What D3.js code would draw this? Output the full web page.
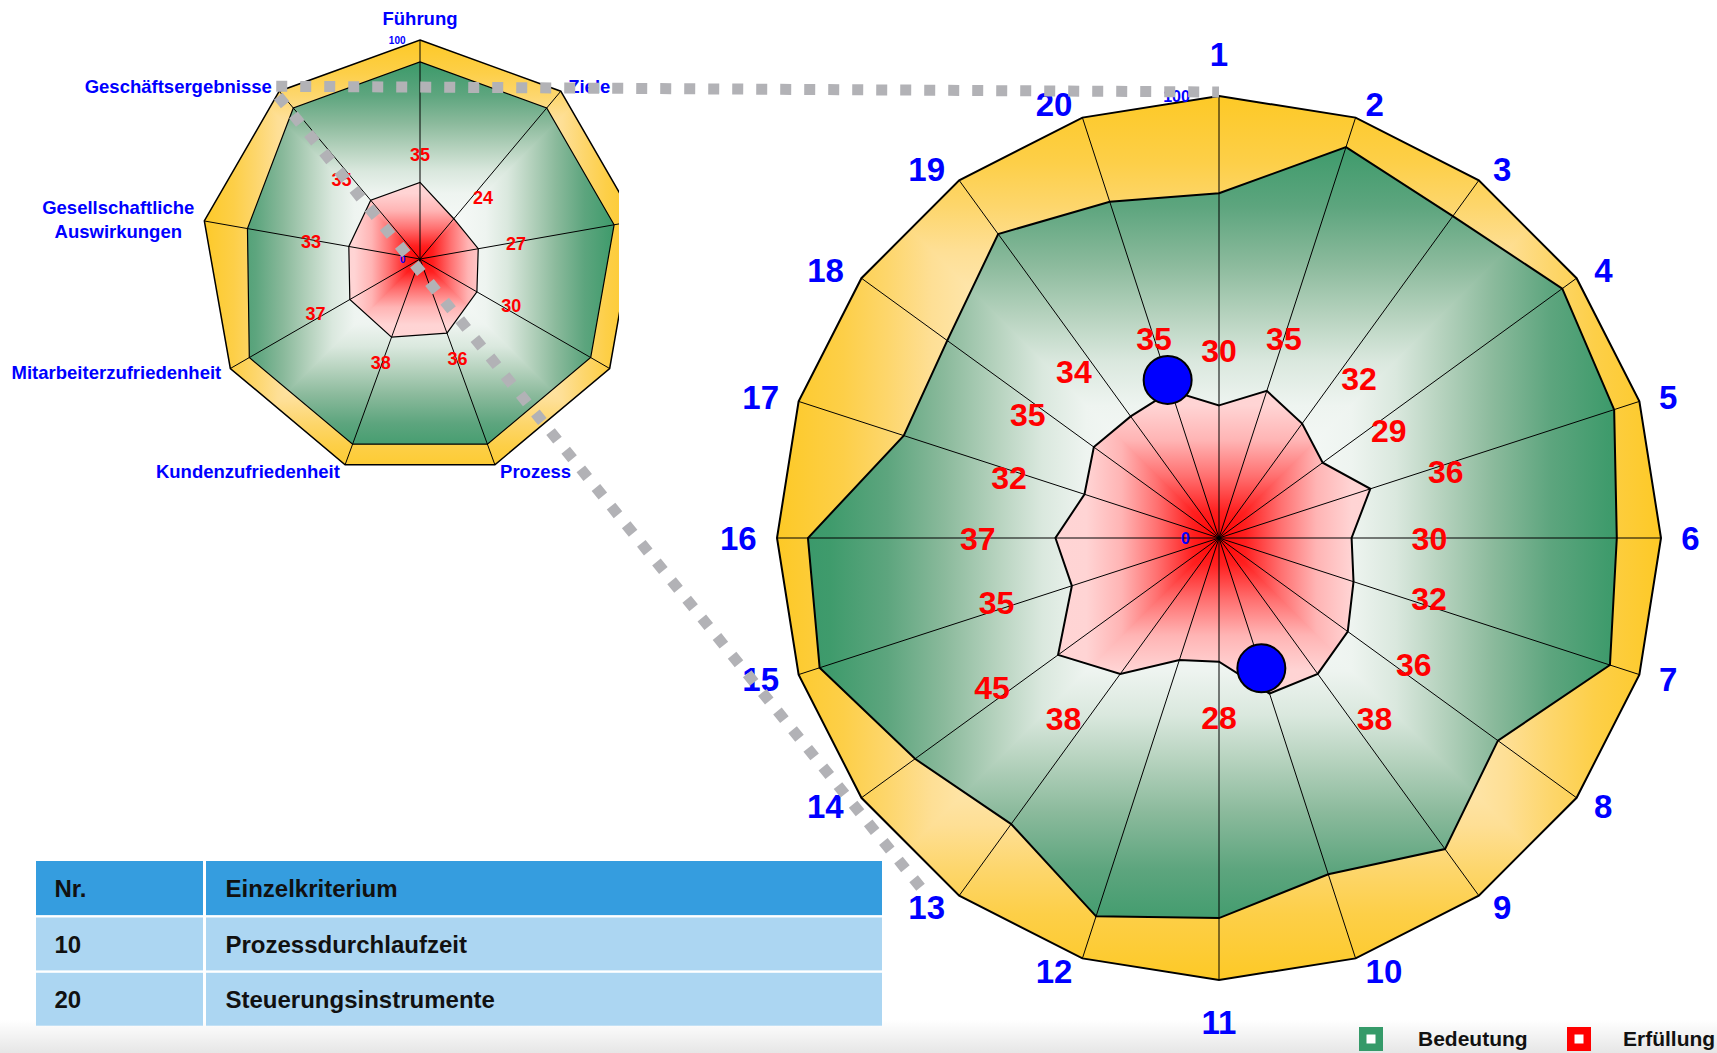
<!DOCTYPE html>
<html><head><meta charset="utf-8">
<script src="https://cdn.jsdelivr.net/npm/d3@7"></script>
<style>
html,body{margin:0;padding:0;background:#fff;overflow:hidden;}
svg{display:block;font-family:"Liberation Sans",Arial,sans-serif;font-weight:bold;}
</style></head><body>
<svg id="chart" width="1717" height="1053"></svg>
<script>
// ---------------- data ----------------
const mainCategories = ["1","2","3","4","5","6","7","8","9","10","11","12","13","14","15","16","17","18","19","20"];
const mainBedeutung  = [78,93,90,96,94,90,93,78,87,80,86,90,80,85,95,93,75,76,85,80];
const mainErfuellung = [30,35,32,29,36,30,32,36,38,37,28,29,38,45,35,37,32,35,34,35];
const mainUnlabeled  = ["10","12"];
const highlightCategories = ["10","20"];
const highlightValues     = [31, 37.6];

const smallCategories = ["Führung","Ziele","","","Prozess","Kundenzufriedenheit","Mitarbeiterzufriedenheit","Gesellschaftliche\nAuswirkungen","Geschäftsergebnisse"];
const smallBedeutung  = [90,90,90,90,90,90,90,80,90];
const smallErfuellung = [35,24,27,30,36,38,37,33,35];

const axisTicks = [0, 100];

const tableHeader = ["Nr.","Einzelkriterium"];
const tableRows = [["10","Prozessdurchlaufzeit"],["20","Steuerungsinstrumente"]];

const legendNames  = ["Bedeutung","Erfüllung"];
const legendColors = ["#359a69","#ff0000"];

// ---------------- styles ----------------
const yellowStops = [[0,"#fff2cc"],[0.55,"#fee6ad"],[0.65,"#fedf95"],[0.75,"#fdd66c"],[0.85,"#fdcf48"],[1,"#fdc926"]];
const greenStops  = [[0,"#ffffff"],[0.3,"#eef4f0"],[0.4,"#dae8de"],[0.5,"#b7d3bf"],[0.62,"#8bba9c"],[0.75,"#5da57e"],[0.88,"#3f9b6c"],[1,"#359669"]];
const redStops    = [[0,"#ff0000"],[0.06,"#ff2020"],[0.14,"#ff7070"],[0.22,"#ffb4b4"],[0.3,"#ffd4d4"],[1,"#ffdcdc"]];
// horizontal share of the data-label offset, by angle from the vertical (label placement rule)
const labelSide = d3.scaleLinear().domain([0,18,36,54,72,90]).range([0,0.22,0.73,0.85,0.97,1]).clamp(true);

const svg = d3.select("#chart");
const defs = svg.append("defs");

// bottom grey band
const bg = defs.append("linearGradient").attr("id","band").attr("x1",0).attr("y1",0).attr("x2",0).attr("y2",1);
bg.append("stop").attr("offset",0).attr("stop-color","#ffffff");
bg.append("stop").attr("offset",1).attr("stop-color","#e6e6e6");
svg.append("rect").attr("x",0).attr("y",1020).attr("width",1717).attr("height",33).attr("fill","url(#band)");

// box ("rectangular path") gradient built from 4 linear gradients clipped to 4 triangles
function makeBox(id, R, stops) {
  const dirs = [[0,-1],[1,0],[0,1],[-1,0]];
  dirs.forEach((d,k) => {
    const lg = defs.append("linearGradient").attr("id",`${id}-g${k}`).attr("gradientUnits","userSpaceOnUse")
      .attr("x1",0).attr("y1",0).attr("x2",d[0]*R).attr("y2",d[1]*R);
    stops.forEach(s => lg.append("stop").attr("offset",s[0]).attr("stop-color",s[1]));
  });
  const L = R*1.5, e = 1.2;
  const tris = [
    [[0,e],[-L-e,-L],[L+e,-L]],
    [[-e,0],[L,-L-e],[L,L+e]],
    [[0,-e],[L+e,L],[-L-e,L]],
    [[e,0],[-L,L+e],[-L,-L-e]]
  ];
  tris.forEach((t,k) => defs.append("clipPath").attr("id",`${id}-c${k}`)
    .append("polygon").attr("points", t.map(p => p.join(",")).join(" ")));
}
function boxFill(g, d, id) {
  for (let k=0;k<4;k++) g.append("path").attr("d",d).attr("fill",`url(#${id}-g${k})`).attr("clip-path",`url(#${id}-c${k})`);
}

function drawRadar(opt) {
  const {id, cx, cy, R, cats, bed, erf, unlabeled, catFont, valFont, tickFont, edge, clipRight, multiLH} = opt;
  const n = cats.length;
  const r = d3.scaleLinear().domain([0,100]).range([0,R]);
  const ang = i => i*2*Math.PI/n;
  const pt = (i,v) => [r(v)*Math.sin(ang(i)), -r(v)*Math.cos(ang(i))];
  const line = d3.lineRadial().angle((d,i)=>ang(i)).radius(d=>r(d)).curve(d3.curveLinearClosed);

  const g = svg.append("g").attr("transform",`translate(${cx},${cy})`);
  if (clipRight !== undefined) {
    defs.append("clipPath").attr("id",`${id}-clip`).append("rect")
      .attr("x",-cx).attr("y",-cy).attr("width",clipRight).attr("height",1053);
    g.attr("clip-path",`url(#${id}-clip)`);
  }
  ["y","g","r"].forEach((k,j)=>makeBox(`${id}-${k}`, R, [yellowStops,greenStops,redStops][j]));

  const full = cats.map(()=>r.domain()[1]);
  boxFill(g, line(full), `${id}-y`);
  boxFill(g, line(bed), `${id}-g`);
  boxFill(g, line(erf), `${id}-r`);

  // spokes
  g.selectAll(".spoke").data(cats).join("line").attr("class","spoke")
    .attr("x1",0).attr("y1",0)
    .attr("x2",(d,i)=>pt(i,100)[0]).attr("y2",(d,i)=>pt(i,100)[1])
    .attr("stroke","#000").attr("stroke-width",1);

  // outlines
  g.append("path").attr("d",line(full)).attr("fill","none").attr("stroke","#000").attr("stroke-width",edge[0]);
  g.append("path").attr("d",line(bed)).attr("fill","none").attr("stroke","#000").attr("stroke-width",edge[1]);
  g.append("path").attr("d",line(erf)).attr("fill","none").attr("stroke","#000").attr("stroke-width",edge[2]);

  // highlight markers
  if (opt.hlCats) {
    opt.hlCats.forEach((c,k) => {
      const i = cats.indexOf(c);
      const p = pt(i, opt.hlVals[k]);
      g.append("circle").attr("cx",p[0]).attr("cy",p[1]).attr("r",opt.hlR)
        .attr("fill","#0000ff").attr("stroke","#000").attr("stroke-width",2);
    });
  }

  // value labels
  const a = 0.176*R, b = 0.125*R;
  erf.forEach((v,i) => {
    if (unlabeled && unlabeled.includes(cats[i])) return;
    const s = Math.sin(ang(i)), c = Math.cos(ang(i));
    const p = pt(i,v);
    const phi = Math.asin(Math.min(1,Math.abs(s)))*180/Math.PI;
    const x = p[0] + Math.sign(s)*a*labelSide(phi);
    const y = p[1] - b*c;
    g.append("text").attr("x", x).attr("y", y).attr("dy","0.36em")
      .attr("text-anchor","middle").attr("fill","#ff0000").attr("font-size",valFont).text(v);
  });

  // value-axis ticks
  axisTicks.forEach(t => {
    g.append("text").attr("x",-0.066*R).attr("y",-r(t)).attr("dy","0.36em")
      .attr("text-anchor","end").attr("fill","#0000ff").attr("font-size",tickFont).text(t);
  });

  // category labels
  cats.forEach((name,i) => {
    if (!name) return;
    const s = Math.sin(ang(i)), c = Math.cos(ang(i));
    const v = pt(i,100);
    const lines = name.split("\n");
    const lh = catFont*multiLH;
    let x, y, side;
    if (Math.abs(s) < 1e-6) {
      x = v[0]; y = v[1] + (c>0?-1:1)*(0.05*R + 0.6*catFont); side = 0;
    } else {
      const gap = R*(0.012 + 0.034*Math.abs(s));
      side = Math.sign(s);
      x = v[0] + side*gap; y = v[1] - c*0.031*R;
    }
    const t = g.append("text").attr("fill","#0000ff").attr("font-size",catFont).attr("text-anchor","middle");
    const y0 = y - (lines.length-1)*lh/2;
    const spans = lines.map((ln,k) => t.append("tspan").attr("x",0).attr("y",y0+k*lh).attr("dy","0.36em").text(ln));
    const w = t.node().getBBox().width;
    const xc = x + side*w/2;
    spans.forEach(sp => sp.attr("x",xc));
  });
  return {pt: (i,v)=>{const p=pt(i,v); return [p[0]+cx,p[1]+cy];}};
}

const small = drawRadar({id:"s", cx:420, cy:259, R:219, cats:smallCategories, bed:smallBedeutung, erf:smallErfuellung,
  catFont:18.5, valFont:18, tickFont:10, edge:[1.5,1.2,1.2], clipRight:619, multiLH:1.3});

const main = drawRadar({id:"m", cx:1219, cy:538, R:442, cats:mainCategories, bed:mainBedeutung, erf:mainErfuellung,
  unlabeled:mainUnlabeled, catFont:33, valFont:32, tickFont:16, edge:[2,2,2],
  hlCats:highlightCategories, hlVals:highlightValues, hlR:24, multiLH:1.2});

// dotted connectors: from small chart's "Geschäftsergebnisse" corner to main chart
const sIdx = smallCategories.indexOf("Geschäftsergebnisse");
const sP = small.pt(sIdx, 100);
const mTop = main.pt(mainCategories.indexOf("1"), 100);
const m13 = main.pt(mainCategories.indexOf("13"), 100);
const conn = svg.append("g").attr("stroke","#b2b2b6").attr("stroke-width",11).attr("stroke-dasharray","11 13").attr("fill","none");
conn.append("line").attr("x1",sP[0]-3).attr("y1",sP[1]-5).attr("x2",mTop[0]).attr("y2",mTop[1]-4);
conn.append("line").attr("x1",sP[0]-1).attr("y1",sP[1]+5).attr("x2",m13[0]-36).attr("y2",m13[1]-5);

// table
const colX = [36, 204.5, 882];
const rowY0 = 861, rowH = 55.3;
const allRows = [tableHeader, ...tableRows];
const tg = svg.append("g");
allRows.forEach((row,ri) => {
  row.forEach((cell,ci) => {
    const x0 = colX[ci] + (ci>0?1.5:0), x1 = colX[ci+1] - (ci<row.length-1?1.5:0);
    const y0 = rowY0 + ri*rowH + (ri>0?1.2:0), y1 = rowY0 + (ri+1)*rowH - 1.2;
    tg.append("rect").attr("x",x0).attr("y",y0).attr("width",x1-x0).attr("height",y1-y0)
      .attr("fill", ri===0 ? "#359ddf" : "#acd6f2");
    tg.append("text").attr("x",x0 + (ci===0?18.5:19.5)).attr("y",(y0+y1)/2).attr("dy","0.36em")
      .attr("fill","#111").attr("font-size",24).text(cell);
  });
});

// legend
const legX = [1359, 1567], txtX = [1418, 1623];
legendNames.forEach((nm,k) => {
  svg.append("rect").attr("x",legX[k]).attr("y",1027).attr("width",24).attr("height",24).attr("fill",legendColors[k]);
  svg.append("rect").attr("x",legX[k]+7.5).attr("y",1034.5).attr("width",9).attr("height",9).attr("fill","#fff");
  svg.append("text").attr("x",txtX[k]).attr("y",1046).attr("fill","#111").attr("font-size",21).text(nm);
});
</script>
</body></html>
